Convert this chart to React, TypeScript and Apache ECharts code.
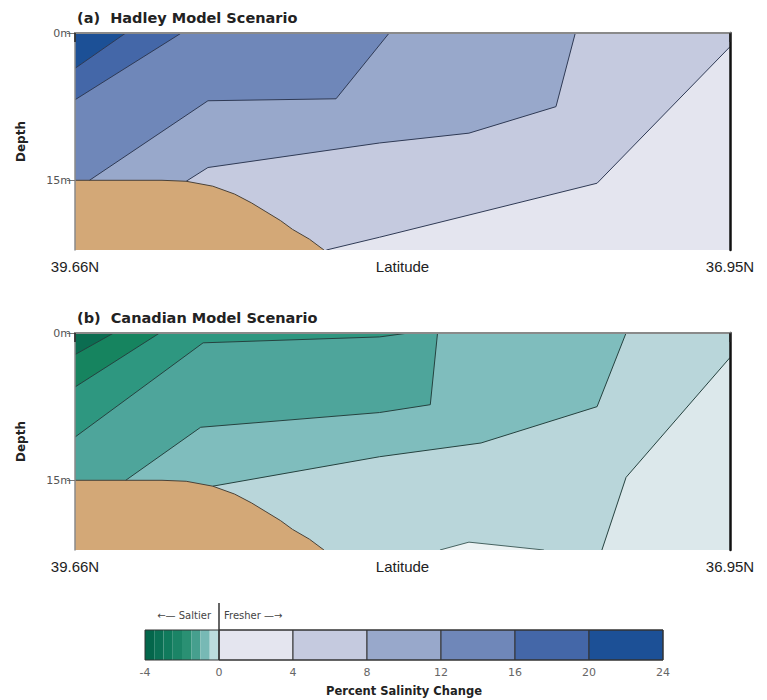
import React, { useEffect, useRef } from "react";
import * as echarts from "echarts";

// ---------- axes ----------
const LAT_WEST = 39.66;
const LAT_EAST = 36.95;
const DEPTH_MAX = 22.1;
const LAT_TICKS = [36.95, 39.66];
const DEPTH_TICKS = [0, 15];

// ---------- (a) Hadley: contour lines as [latitude, depth m] ----------
const HADLEY_BAND_COLORS = ["#e4e5ef", "#c5cadf", "#98a8cb", "#6f87b9", "#4467a8", "#1c5096"];
const HADLEY_C4 = [[36.95, 1.4], [37.5, 15.3], [38.4, 20.8], [38.62, 22.1]];
const HADLEY_C8 = [[37.59, 0], [37.67, 7.5], [38.03, 10.2], [38.4, 11.2], [39.11, 13.7], [39.2, 15.1]];
const HADLEY_C12 = [[38.36, 0], [38.58, 6.7], [39.11, 6.9], [39.6, 15.0]];
const HADLEY_C16 = [[39.22, 0], [39.66, 6.8]];
const HADLEY_C20 = [[39.45, 0], [39.66, 3.6]];

// ---------- (b) Canadian ----------
const CANADIAN_BAND_COLORS = ["#dce8eb", "#b9d6da", "#7fbdbd", "#4ea59b", "#2e9780", "#16845f", "#0b6d51"];
const CANADIAN_C6 = [[36.95, 2.5], [37.38, 14.7], [37.48, 22.1]];
const CANADIAN_C5 = [[37.38, 0], [37.5, 7.5], [37.98, 11.2], [38.4, 12.6], [39.09, 15.6]];
const CANADIAN_C4 = [[38.16, 0], [38.19, 7.3], [38.4, 8.1], [39.14, 9.6], [39.45, 15.0]];
const CANADIAN_C3 = [[38.28, 0], [38.4, 0.4], [39.13, 1.0], [39.66, 10.6]];
const CANADIAN_C2 = [[39.31, 0], [39.66, 5.5]];
const CANADIAN_C1 = [[39.5, 0], [39.66, 2.2]];
const CANADIAN_PATCH = [[38.15, 22.1], [38.03, 21.3], [37.72, 22.1]];

// ---------- sea floor ----------
const SAND = [[39.66, 15.0], [39.3, 15.0], [39.2, 15.1], [39.09, 15.6], [39.0, 16.4], [38.93, 17.3], [38.87, 18.2], [38.81, 19.1], [38.76, 20.0], [38.69, 21.0], [38.63, 22.1]];

// ---------- legend ----------
const LEGEND_SALTIER_EDGES = [-4, -3.5, -3, -2.5, -2, -1.5, -1, -0.5, 0];
const LEGEND_SALTIER_COLORS = ["#03664b", "#0a7054", "#107a5c", "#1b8466", "#2a9073", "#469f8e", "#77b9b5", "#bcdcdd"];
const LEGEND_FRESHER_EDGES = [0, 4, 8, 12, 16, 20, 24];

const AXIS_FONT = "'Liberation Sans Narrow', 'Liberation Sans', Arial, sans-serif";
const BOLD_FONT = "'DejaVu Sans', sans-serif";

type Item = { kind: "fill" | "line"; pts: number[][]; color: string; width?: number };

function panelItems(bandColors: string[], contours: number[][][], lineColor: string, patches: { pts: number[][]; color: string }[]): Item[] {
  const items: Item[] = [];
  items.push({
    kind: "fill",
    pts: [[LAT_EAST, 0], [LAT_WEST, 0], [LAT_WEST, DEPTH_MAX], [LAT_EAST, DEPTH_MAX]],
    color: bandColors[0],
  });
  contours.forEach((c, i) => {
    items.push({ kind: "fill", pts: [[LAT_EAST, 0], ...c, [LAT_WEST, DEPTH_MAX], [LAT_WEST, 0]], color: bandColors[i + 1] });
  });
  patches.forEach((p) => items.push({ kind: "fill", pts: p.pts, color: p.color }));
  items.push({ kind: "fill", pts: [...SAND, [LAT_WEST, DEPTH_MAX]], color: "#d3a877" });
  contours.forEach((c) => items.push({ kind: "line", pts: c, color: lineColor, width: 1 }));
  patches.forEach((p) => items.push({ kind: "line", pts: p.pts, color: lineColor, width: 0.8 }));
  items.push({ kind: "line", pts: SAND, color: "#4a4238", width: 1 });
  return items;
}

function panelSeries(gridIndex: number, items: Item[]) {
  return {
    type: "custom",
    coordinateSystem: "cartesian2d",
    xAxisIndex: gridIndex,
    yAxisIndex: gridIndex,
    clip: true,
    silent: true,
    z: 2,
    data: items.map((it, i) => [it.pts[0][0], it.pts[0][1], i]),
    renderItem: (params: any, api: any) => {
      const it = items[params.dataIndex];
      const points = it.pts.map((p) => api.coord(p));
      if (it.kind === "line") {
        return { type: "polyline", shape: { points }, style: { stroke: it.color, lineWidth: it.width, fill: null } };
      }
      return { type: "polygon", shape: { points }, style: { fill: it.color, stroke: null } };
    },
  };
}

function panelAxes(gridIndex: number) {
  const x = {
    gridIndex,
    type: "value",
    min: LAT_EAST,
    max: LAT_WEST,
    inverse: true,
    z: 5,
    axisLine: { show: true, lineStyle: { color: "#555", width: 2 } },
    axisTick: { show: true, customValues: LAT_TICKS, length: 9, lineStyle: { color: "#222", width: 1.5 } },
    axisLabel: {
      customValues: LAT_TICKS,
      formatter: (v: number) => v.toFixed(2) + "N",
      fontSize: 15,
      fontFamily: AXIS_FONT,
      color: "#222",
      margin: 9,
    },
    splitLine: { show: false },
    name: "Latitude",
    nameLocation: "middle",
    nameGap: 9,
    nameMoveOverlap: false,
    nameTextStyle: { fontSize: 15, fontFamily: AXIS_FONT, color: "#222", verticalAlign: "top" },
  };
  const xTop = {
    gridIndex,
    type: "value",
    position: "top",
    min: LAT_EAST,
    max: LAT_WEST,
    inverse: true,
    z: 5,
    axisLine: { show: true, lineStyle: { color: "#8a8a8a", width: 2 } },
    axisTick: { show: false },
    axisLabel: { show: false },
    splitLine: { show: false },
  };
  const y = {
    gridIndex,
    type: "value",
    min: 0,
    max: DEPTH_MAX,
    inverse: true,
    z: 5,
    axisLine: { show: true, lineStyle: { color: "#8a8a8a", width: 1.5 } },
    axisTick: { show: true, customValues: DEPTH_TICKS, length: 8, lineStyle: { color: "#777" } },
    axisLabel: {
      customValues: DEPTH_TICKS,
      formatter: (v: number) => v + "m",
      fontSize: 11,
      fontFamily: BOLD_FONT,
      color: "#555",
      margin: 4,
    },
    splitLine: { show: false },
    name: "Depth",
    nameLocation: "middle",
    nameGap: 48,
    nameMoveOverlap: false,
    nameTextStyle: { fontSize: 12, fontWeight: "bold", fontFamily: BOLD_FONT, color: "#222" },
  };
  const yRight = {
    gridIndex,
    type: "value",
    position: "right",
    min: 0,
    max: DEPTH_MAX,
    inverse: true,
    z: 5,
    axisLine: { show: true, lineStyle: { color: "#111", width: 2.5 } },
    axisTick: { show: false },
    axisLabel: { show: false },
    splitLine: { show: false },
  };
  return { x, xTop, y, yRight };
}

type LegendRect = { from: number; to: number; color: string; stroke: boolean; fill: boolean };

export default function App() {
  const ref = useRef<HTMLDivElement>(null);

  useEffect(() => {
    if (!ref.current) return;
    const chart = echarts.init(ref.current, null, { renderer: "svg" });

    const hadley = panelItems(HADLEY_BAND_COLORS, [HADLEY_C4, HADLEY_C8, HADLEY_C12, HADLEY_C16, HADLEY_C20], "#2f3a55", []);
    const canadian = panelItems(
      CANADIAN_BAND_COLORS,
      [CANADIAN_C6, CANADIAN_C5, CANADIAN_C4, CANADIAN_C3, CANADIAN_C2, CANADIAN_C1],
      "#25423f",
      [{ pts: CANADIAN_PATCH, color: "#edf3f4" }]
    );

    const legendRects: LegendRect[] = [
      ...LEGEND_SALTIER_COLORS.map((c, i) => ({ from: LEGEND_SALTIER_EDGES[i], to: LEGEND_SALTIER_EDGES[i + 1], color: c, stroke: false, fill: true })),
      ...HADLEY_BAND_COLORS.map((c, i) => ({ from: LEGEND_FRESHER_EDGES[i], to: LEGEND_FRESHER_EDGES[i + 1], color: c, stroke: true, fill: true })),
      { from: LEGEND_SALTIER_EDGES[0], to: LEGEND_FRESHER_EDGES[LEGEND_FRESHER_EDGES.length - 1], color: "none", stroke: true, fill: false },
    ];

    const a = panelAxes(0);
    const b = panelAxes(1);

    chart.setOption({
      animation: false,
      backgroundColor: "#ffffff",
      title: [
        {
          text: "(a)  Hadley Model Scenario",
          left: 77,
          top: 10,
          padding: 0,
          textStyle: { fontSize: 14.5, fontWeight: "bold", fontFamily: BOLD_FONT, color: "#222" },
        },
        {
          text: "(b)  Canadian Model Scenario",
          left: 77,
          top: 310,
          padding: 0,
          textStyle: { fontSize: 14.5, fontWeight: "bold", fontFamily: BOLD_FONT, color: "#222" },
        },
      ],
      grid: [
        { left: 75, top: 33, width: 655, height: 217 },
        { left: 75, top: 333, width: 655, height: 217 },
        { left: 145, top: 630, width: 518, height: 30 },
      ],
      xAxis: [
        a.x,
        b.x,
        {
          gridIndex: 2,
          type: "value",
          min: -4,
          max: 24,
          interval: 4,
          axisLine: { show: false },
          axisTick: { show: false },
          axisLabel: { fontSize: 11, fontFamily: BOLD_FONT, color: "#666", margin: 7 },
          splitLine: { show: false },
          name: "Percent Salinity Change",
          nameLocation: "middle",
          nameGap: 25,
          nameMoveOverlap: false,
          nameTextStyle: { fontSize: 11.5, fontWeight: "bold", fontFamily: BOLD_FONT, color: "#222" },
        },
        a.xTop,
        b.xTop,
      ],
      yAxis: [
        a.y,
        b.y,
        { gridIndex: 2, type: "value", min: 0, max: 1, show: false },
        a.yRight,
        b.yRight,
      ],
      series: [
        panelSeries(0, hadley),
        panelSeries(1, canadian),
        {
          type: "custom",
          coordinateSystem: "cartesian2d",
          xAxisIndex: 2,
          yAxisIndex: 2,
          silent: true,
          z: 2,
          data: legendRects.map((r, i) => [r.from, 0, i]),
          renderItem: (params: any, api: any) => {
            const r = legendRects[params.dataIndex];
            const p0 = api.coord([r.from, 1]);
            const p1 = api.coord([r.to, 0]);
            return {
              type: "rect",
              shape: { x: p0[0], y: p0[1], width: p1[0] - p0[0], height: p1[1] - p0[1] },
              style: { fill: r.fill ? r.color : null, stroke: r.stroke ? "#333" : null, lineWidth: 1 },
            };
          },
        },
      ],
    });

    const zeroX = chart.convertToPixel({ xAxisIndex: 2 }, 0) as number;
    chart.setOption({
      graphic: [
        { type: "line", shape: { x1: zeroX, y1: 603, x2: zeroX, y2: 660 }, style: { stroke: "#333", lineWidth: 1.5 }, z: 10 },
        {
          type: "text",
          x: zeroX - 8,
          y: 615,
          style: { text: "←— Saltier", fontSize: 10, fontFamily: BOLD_FONT, fill: "#444", align: "right", verticalAlign: "middle" },
        },
        {
          type: "text",
          x: zeroX + 5,
          y: 615,
          style: { text: "Fresher —→", fontSize: 10, fontFamily: BOLD_FONT, fill: "#444", align: "left", verticalAlign: "middle" },
        },
      ],
    });

    return () => chart.dispose();
  }, []);

  return (
    <div
      ref={ref}
      style={{ position: "fixed", left: 0, top: 0, width: 767, height: 700, background: "#fff" }}
    />
  );
}
